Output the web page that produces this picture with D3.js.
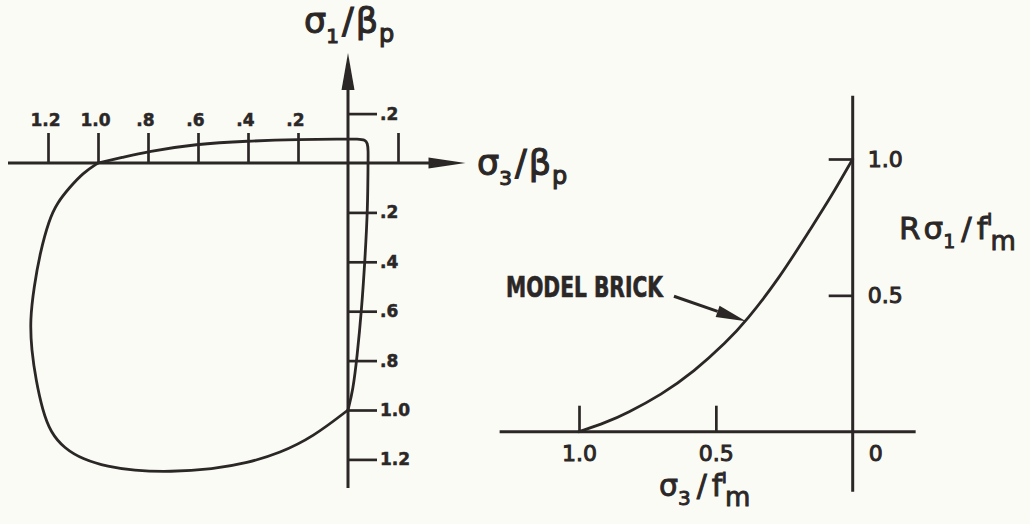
<!DOCTYPE html>
<html>
<head>
<meta charset="utf-8">
<script src="https://cdn.jsdelivr.net/npm/d3@7"></script>
<style>
  html, body { margin: 0; padding: 0; background: #fbfbf5; }
  svg { display: block; }
  text { font-family: "DejaVu Sans", "Noto Sans", sans-serif; fill: #2b2727; }
</style>
</head>
<body>
<svg id="fig" width="1030" height="524"></svg>
<script>
// ---------- Left panel: failure envelope, σ3/βp vs σ1/βp ----------
// upper / right branch, from (1.0, 0) across the top and down to (0, 1.0)
const envUpperX = [-1.0, -0.904, -0.804, -0.608, -0.404, -0.192, -0.032, 0.045, 0.068, 0.078, 0.081, 0.080, 0.079, 0.068, 0.055, 0.036, 0.020, 0.0];
const envUpperY = [0.0, 0.022, 0.046, 0.077, 0.089, 0.095, 0.097, 0.097, 0.093, 0.081, 0.050, 0.0, -0.178, -0.389, -0.587, -0.789, -0.919, -1.0];
// lower / left branch, from (1.0, 0) round the compression side to (0, 1.0)
const envLowerX = [-1.0, -1.06, -1.112, -1.164, -1.196, -1.232, -1.256, -1.272, -1.266, -1.248, -1.222, -1.19, -1.135, -1.06, -0.96, -0.86, -0.712, -0.54, -0.404, -0.272, -0.14, 0.0];
const envLowerY = [0.0, -0.040, -0.097, -0.162, -0.231, -0.364, -0.502, -0.636, -0.757, -0.88, -1.0, -1.09, -1.155, -1.2, -1.23, -1.245, -1.251, -1.239, -1.215, -1.174, -1.109, -1.0];

const leftXTicks = [-1.2, -1.0, -0.8, -0.6, -0.4, -0.2, 0.2];
const leftXTickLabels = ["1.2", "1.0", ".8", ".6", ".4", ".2", ""];
const leftYTicks = [0.2, -0.2, -0.4, -0.6, -0.8, -1.0, -1.2];
const leftYTickLabels = [".2", ".2", ".4", ".6", ".8", "1.0", "1.2"];

// ---------- Right panel: model brick, σ3/f'm vs Rσ1/f'm ----------
const brickX = [1.0, 0.9, 0.825, 0.7, 0.58, 0.46, 0.39, 0.27, 0.15, 0.08, 0.0];
const brickY = [0.0, 0.034, 0.068, 0.135, 0.22, 0.33, 0.405, 0.56, 0.75, 0.86, 1.0];
const rightXTicks = [1.0, 0.5];
const rightXTickLabels = ["1.0", "0.5"];
const rightYTicks = [1.0, 0.5];
const rightYTickLabels = ["1.0", "0.5"];
const brickLabel = "MODEL BRICK";
const brickPointer = 6;   // index of the curve point the arrow touches

const INK = "#2b2727";
const svg = d3.select("#fig");

// ---------------- scales ----------------
const xL = d3.scaleLinear().domain([-1, 0]).range([98, 348]);
const yL = d3.scaleLinear().domain([0, -1]).range([163, 410]);
const xR = d3.scaleLinear().domain([1, 0]).range([579, 852.7]);
const yR = d3.scaleLinear().domain([0, 1]).range([431.7, 159]);

const line = (sx, sy) => d3.line().x(d => sx(d[0])).y(d => sy(d[1])).curve(d3.curveBasis);
const zip = (a, b) => a.map((v, i) => [v, b[i]]);

function styleTicks(g, size, sw, weight) {
  g.select(".domain").remove();
  g.selectAll(".tick line").attr("stroke", INK).attr("stroke-width", 2.7);
  g.selectAll(".tick text").attr("font-size", size)
    .style("font-family", '"DejaVu Sans", sans-serif').attr("font-weight", weight)
    .attr("fill", INK).attr("stroke", INK).attr("stroke-width", sw);
}

// ---------------- left panel ----------------
const gL = svg.append("g");

// axis lines with arrowheads
const axX0 = xL(-1.36), axX1 = xL(0.47), axY = yL(0);
gL.append("line").attr("x1", axX0).attr("x2", axX1 - 30).attr("y1", axY).attr("y2", axY)
  .attr("stroke", INK).attr("stroke-width", 3);
gL.append("path")
  .attr("d", `M${axX1},${axY} L${axX1 - 37},${axY - 5.5} L${axX1 - 37},${axY + 5.5} Z`)
  .attr("fill", INK);

const ayX = xL(0), ayTop = yL(0.445), ayBot = yL(-1.316);
gL.append("line").attr("x1", ayX).attr("x2", ayX).attr("y1", ayTop + 30).attr("y2", ayBot)
  .attr("stroke", INK).attr("stroke-width", 3);
gL.append("path")
  .attr("d", `M${ayX},${ayTop} L${ayX - 6.5},${ayTop + 37} L${ayX + 6.5},${ayTop + 37} Z`)
  .attr("fill", INK);

// horizontal ticks, pointing up, labels above
const axTop = gL.append("g").attr("transform", `translate(0,${axY})`)
  .call(d3.axisTop(xL).tickValues(leftXTicks).tickSize(30).tickPadding(7)
    .tickFormat((d, i) => leftXTickLabels[i]));
styleTicks(axTop, 17, 0.5, "bold");
axTop.selectAll(".tick text").attr("dx", "-3");

// vertical ticks, pointing right, labels beside
const axRight = gL.append("g").attr("transform", `translate(${ayX},0)`)
  .call(d3.axisRight(yL).tickValues(leftYTicks).tickSize(29).tickPadding(3)
    .tickFormat((d, i) => leftYTickLabels[i]));
styleTicks(axRight, 17, 0.5, "bold");

// envelope
[zip(envUpperX, envUpperY), zip(envLowerX, envLowerY)].forEach(pts => {
  gL.append("path").attr("d", line(xL, yL)(pts))
    .attr("fill", "none").attr("stroke", INK).attr("stroke-width", 2.8)
    .attr("stroke-linejoin", "round").attr("stroke-linecap", "round");
});

// axis titles
function ratioTitle(g, x, y, size, sw, parts) {
  const t = g.append("text").attr("x", x).attr("y", y).attr("font-size", size)
    .attr("stroke", INK).attr("stroke-width", sw);
  parts.forEach(p => {
    const s = t.append("tspan").text(p.t);
    if (p.size) s.attr("font-size", p.size);
    if (p.dy) s.attr("dy", p.dy);
    if (p.dx) s.attr("dx", p.dx);
  });
  return t;
}
ratioTitle(gL, 304, 33, 35, 1.1, [
  { t: "σ" }, { t: "1", size: 20, dy: 10, dx: 0 }, { t: "/", dy: -10, dx: 3 },
  { t: "β", dx: 2 }, { t: "p", size: 24, dy: 9, dx: 1 }
]);
ratioTitle(gL, 477, 175, 35, 1.1, [
  { t: "σ" }, { t: "3", size: 20, dy: 10, dx: 0 }, { t: "/", dy: -10, dx: 3 },
  { t: "β", dx: 2 }, { t: "p", size: 24, dy: 9, dx: 1 }
]);

// ---------------- right panel ----------------
const gR = svg.append("g");
const rAxY = yR(0), rAxX = xR(0);
gR.append("line").attr("x1", xR(1.29)).attr("x2", xR(-0.23)).attr("y1", rAxY).attr("y2", rAxY)
  .attr("stroke", INK).attr("stroke-width", 3);
gR.append("line").attr("x1", rAxX).attr("x2", rAxX).attr("y1", yR(1.232)).attr("y2", yR(-0.22))
  .attr("stroke", INK).attr("stroke-width", 3);

const rBottom = gR.append("g").attr("transform", `translate(0,${rAxY})`)
  .call(d3.axisBottom(xR).tickValues(rightXTicks).tickSize(-26).tickPadding(14)
    .tickFormat((d, i) => rightXTickLabels[i]));
styleTicks(rBottom, 22, 1, "normal");
// origin label sits to the right of the vertical axis
gR.append("text").attr("x", rAxX + 23).attr("y", rAxY + 14).attr("dy", "0.71em")
  .attr("text-anchor", "middle").attr("font-size", 22)
  .attr("stroke", INK).attr("stroke-width", 1).text("0");

const rSide = gR.append("g").attr("transform", `translate(${rAxX},0)`)
  .call(d3.axisRight(yR).tickValues(rightYTicks).tickSize(-24).tickPadding(15)
    .tickFormat((d, i) => rightYTickLabels[i]));
styleTicks(rSide, 22, 1, "normal");

gR.append("path").attr("d", line(xR, yR)(zip(brickX, brickY)))
  .attr("fill", "none").attr("stroke", INK).attr("stroke-width", 2.8)
  .attr("stroke-linecap", "round");

// callout
const tipX = xR(brickX[brickPointer]), tipY = yR(brickY[brickPointer]);
const tailX = tipX - 72, tailY = tipY - 25;
const ang = Math.atan2(tipY - tailY, tipX - tailX);
const hl = 30, hw = 6;
const bx = tipX - hl * Math.cos(ang), by = tipY - hl * Math.sin(ang);
gR.append("line").attr("x1", tailX).attr("y1", tailY).attr("x2", bx).attr("y2", by)
  .attr("stroke", INK).attr("stroke-width", 3);
gR.append("path")
  .attr("d", `M${tipX},${tipY} L${bx - hw * Math.sin(ang)},${by + hw * Math.cos(ang)} L${bx + hw * Math.sin(ang)},${by - hw * Math.cos(ang)} Z`)
  .attr("fill", INK);
gR.append("text").attr("x", 506).attr("y", 297)
  .attr("font-size", 29).attr("font-weight", "bold")
  .style("font-family", '"DejaVu Sans Condensed", "DejaVu Sans", sans-serif')
  .attr("stroke", INK).attr("stroke-width", 0.6)
  .attr("textLength", 157).attr("lengthAdjust", "spacingAndGlyphs")
  .text(brickLabel);

// axis titles
ratioTitle(gR, 899, 239, 31, 0.9, [
  { t: "R" }, { t: "σ", dx: 3 }, { t: "1", size: 19, dy: 9, dx: 0 }, { t: "/", dy: -9, dx: 6 },
  { t: "f", dx: 5 }, { t: "ı", size: 21, dy: -14, dx: -1 }, { t: "m", size: 26, dy: 25, dx: -2 }
]);
ratioTitle(gR, 659, 496, 30, 0.9, [
  { t: "σ" }, { t: "3", size: 20, dy: 9, dx: 0 }, { t: "/", dy: -9, dx: 6 },
  { t: "f", dx: 5 }, { t: "ı", size: 20, dy: -13, dx: -1 }, { t: "m", size: 26, dy: 23, dx: -2 }
]);
</script>
</body>
</html>
